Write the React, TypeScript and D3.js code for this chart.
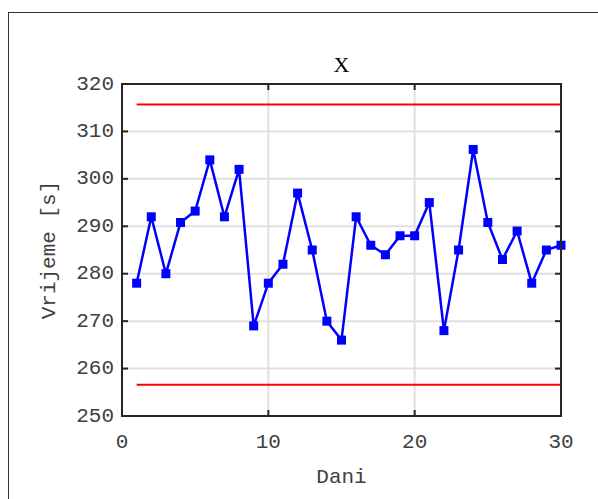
import React from "react";
import * as d3 from "d3";

const days = d3.range(1, 31);
const times = [278, 292, 280, 290.8, 293.2, 304, 292, 302, 269, 278, 282, 297, 285, 270, 266, 292, 286, 284, 288, 288, 295, 268, 285, 306.2, 290.8, 283, 289, 278, 285, 286];
const upperLimit = 315.7;
const lowerLimit = 256.6;
const xTicks = [0, 10, 20, 30];
const yTicks = [250, 260, 270, 280, 290, 300, 310, 320];
const title = "X";
const xLabel = "Dani";
const yLabel = "Vrijeme [s]";

export default function App() {
  const W = 598, H = 499;
  const left = 122, right = 561, top = 84, bottom = 416;
  const x = d3.scaleLinear().domain([0, 30]).range([left, right]);
  const y = d3.scaleLinear().domain([250, 320]).range([bottom, top]);
  const line = d3.line<number>().x((_, i) => x(days[i])).y((d) => y(d));
  const font = "'Liberation Mono', 'Courier New', monospace";
  const textColor = "#404040";
  const axisColor = "#262626";
  const tl = 6;
  return (
    <svg width={W} height={H} style={{ position: "absolute", left: 0, top: 0 }}>
      <rect x={0} y={0} width={W} height={H} fill="#fff" />
      <rect x={8.5} y={12.5} width={620} height={520} fill="none" stroke="#333" strokeWidth={1} />
      {xTicks.slice(1, -1).map((t) => (
        <line key={"gx" + t} x1={x(t)} x2={x(t)} y1={top} y2={bottom} stroke="#e0e0e0" strokeWidth={2} />
      ))}
      {yTicks.slice(1, -1).map((t) => (
        <line key={"gy" + t} x1={left} x2={right} y1={y(t)} y2={y(t)} stroke="#e0e0e0" strokeWidth={2} />
      ))}
      <line x1={x(1)} x2={x(30)} y1={y(upperLimit)} y2={y(upperLimit)} stroke="#ff0000" strokeWidth={2} />
      <line x1={x(1)} x2={x(30)} y1={y(lowerLimit)} y2={y(lowerLimit)} stroke="#ff0000" strokeWidth={2} />
      <path d={line(times) || ""} fill="none" stroke="#0000ff" strokeWidth={2.5} />
      {times.map((v, i) => (
        <rect key={i} x={x(days[i]) - 4.5} y={y(v) - 4.5} width={9} height={9} fill="#0000ff" />
      ))}
      <rect x={left} y={top} width={right - left} height={bottom - top} fill="none" stroke={axisColor} strokeWidth={2} />
      {xTicks.map((t) => (
        <g key={"tx" + t}>
          <line x1={x(t)} x2={x(t)} y1={bottom} y2={bottom - tl} stroke={axisColor} strokeWidth={2} />
          <line x1={x(t)} x2={x(t)} y1={top} y2={top + tl} stroke={axisColor} strokeWidth={2} />
          <text x={x(t)} y={bottom + 26} textAnchor="middle" dominantBaseline="middle" fontFamily={font} fontSize={21} fill={textColor}>{t}</text>
        </g>
      ))}
      {yTicks.map((t) => (
        <g key={"ty" + t}>
          <line x1={left} x2={left + tl} y1={y(t)} y2={y(t)} stroke={axisColor} strokeWidth={2} />
          <line x1={right} x2={right - tl} y1={y(t)} y2={y(t)} stroke={axisColor} strokeWidth={2} />
          <text x={left - 8} y={y(t)} textAnchor="end" dominantBaseline="middle" fontFamily={font} fontSize={21} fill={textColor}>{t}</text>
        </g>
      ))}
      <text x={(left + right) / 2} y={67} textAnchor="middle" dominantBaseline="middle" fontFamily="'Liberation Serif', serif" fontSize={22} fill="#000">{title}</text>
      <text x={(left + right) / 2} y={477} textAnchor="middle" dominantBaseline="middle" fontFamily={font} fontSize={21} fill={textColor}>{xLabel}</text>
      <text transform={`translate(49,${(top + bottom) / 2}) rotate(-90)`} textAnchor="middle" dominantBaseline="middle" fontFamily={font} fontSize={21} fill={textColor}>{yLabel}</text>
    </svg>
  );
}
